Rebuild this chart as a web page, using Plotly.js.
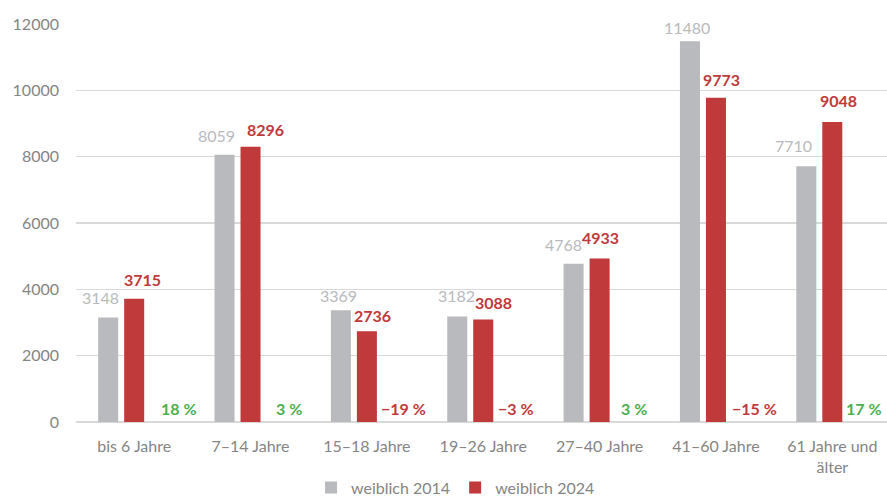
<!DOCTYPE html>
<html>
<head>
<meta charset="utf-8">
<script src="https://cdn.plot.ly/plotly-3.0.1.min.js"></script>
<style>html,body{margin:0;padding:0;background:#fff;}#chart{width:887px;height:497px;}</style>
</head>
<body>
<div id="chart"></div>
<script>
// ---- data ----
const categories = ["bis 6 Jahre", "7–14 Jahre", "15–18 Jahre", "19–26 Jahre", "27–40 Jahre", "41–60 Jahre", "61 Jahre und<br>älter"];
const seriesNames = ["weiblich 2014", "weiblich 2024"];
const values2014 = [3148, 8059, 3369, 3182, 4768, 11480, 7710];
const values2024 = [3715, 8296, 2736, 3088, 4933, 9773, 9048];
const changePct = [18, 3, -19, -3, 3, -15, 17];

// ---- label placement (px shifts, styling only) ----
const grayLabelDX = [-34, -34, -28, -26.5, -36, -28.5, -38.5];
const grayLabelDY = [12.6, 11.4, 7, 13, 12, 6, 13];
const redLabelDX = [8.5, 14.5, 6, 10.2, 1, 5.5, 6];
const redLabelDY = [12, 10, 8, 9.6, 13, 11, 13.6];
const pctLabelDX = [45, 38.5, 37, 33.2, 34, 38.5, 32];

const GRAY = "#b9babd", RED = "#c0393b", GREEN = "#4caf50", TXT = "#858585";
const FONT = "Lato, 'Open Sans', sans-serif";

const barW = 0.172;
const traces = [
  {type: "bar", name: seriesNames[0], x: categories, y: values2014, marker: {color: GRAY},
   width: barW, offset: -0.2234 - barW / 2, hoverinfo: "x+y"},
  {type: "bar", name: seriesNames[1], x: categories, y: values2024, marker: {color: RED},
   width: barW, offset: -barW / 2, hoverinfo: "x+y"}
];

const annotations = [];
categories.forEach((c, i) => {
  annotations.push({x: c, y: values2014[i], xref: "x", yref: "y", text: String(values2014[i]),
    showarrow: false, xanchor: "center", yanchor: "middle", xshift: grayLabelDX[i], yshift: grayLabelDY[i] + 7.5,
    font: {family: FONT, size: 16, color: GRAY}});
  annotations.push({x: c, y: values2024[i], xref: "x", yref: "y", text: "<b>" + values2024[i] + "</b>",
    showarrow: false, xanchor: "center", yanchor: "middle", xshift: redLabelDX[i], yshift: redLabelDY[i] + 7.5,
    font: {family: FONT, size: 16, color: RED}});
  const p = changePct[i];
  const txt = (p < 0 ? "\u2212" + Math.abs(p) : String(p)) + " %";
  annotations.push({x: c, y: 0, xref: "x", yref: "y", text: "<b>" + txt + "</b>",
    showarrow: false, xanchor: "center", yanchor: "middle", xshift: pctLabelDX[i], yshift: 14,
    font: {family: FONT, size: 16, color: p < 0 ? RED : GREEN}});
});

const layout = {
  width: 887, height: 497,
  margin: {l: 76, r: 0, t: 24, b: 75, pad: 0, autoexpand: false},
  paper_bgcolor: "#fff", plot_bgcolor: "#fff",
  barmode: "overlay",
  font: {family: FONT, size: 16, color: TXT},
  showlegend: true,
  legend: {orientation: "h", x: 0.468, xanchor: "center", y: -0.165, yanchor: "middle",
    font: {family: FONT, size: 16, color: TXT}, itemwidth: 30, traceorder: "normal"},
  xaxis: {type: "category", range: [-0.5, 6.47], showgrid: false, showline: false, zeroline: false, automargin: false,
    ticks: "", tickfont: {family: FONT, size: 16, color: TXT}, ticklabelstandoff: 13, fixedrange: true},
  yaxis: {range: [0, 12000], dtick: 2000, tickformat: "d", showgrid: true, gridcolor: "#d9d9d9", gridwidth: 1.3,
    zeroline: true, zerolinecolor: "#d9d9d9", zerolinewidth: 1.3, showline: false, ticks: "", automargin: false,
    tickfont: {family: FONT, size: 16, color: TXT}, ticklabelstandoff: 16, fixedrange: true},
  annotations: annotations
};

Plotly.newPlot("chart", traces, layout, {displayModeBar: false, staticPlot: true});
</script>
</body>
</html>
